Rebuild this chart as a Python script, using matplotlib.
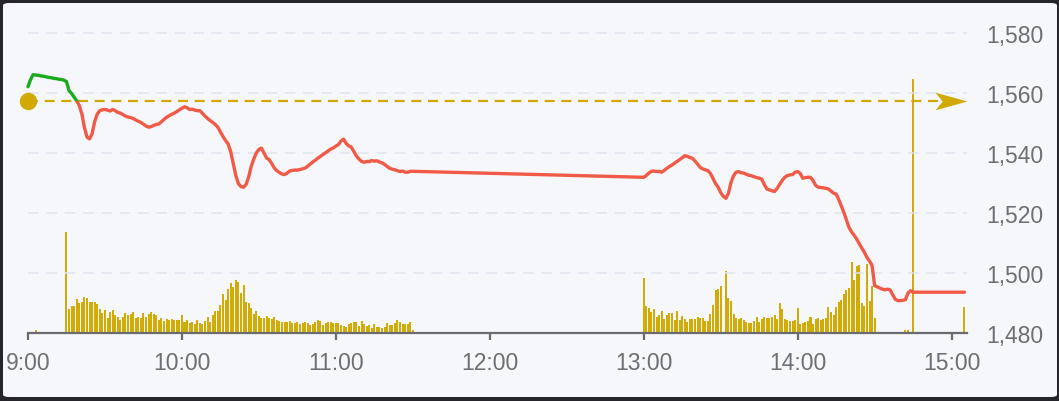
import matplotlib.pyplot as plt
from matplotlib.patches import Rectangle, FancyBboxPatch

# minutes after 9:00
morning_prices = [
    1562.1, 1564.5, 1566.1, 1566.0, 1565.9, 1565.7, 1565.6, 1565.4, 1565.2, 1565.1,
    1564.9, 1564.8, 1564.6, 1564.5, 1564.3, 1563.8, 1560.8, 1559.8, 1558.6, 1557.4,
    1555.8, 1553.0, 1548.5, 1545.3, 1544.7, 1546.5, 1550.5, 1553.0, 1554.1, 1554.4,
    1554.5, 1554.3, 1554.0, 1554.5, 1554.1, 1553.5, 1553.3, 1552.8, 1552.3, 1552.0,
    1551.8, 1551.5, 1551.0, 1550.6, 1550.2, 1549.6, 1549.0, 1548.6, 1548.8, 1549.2,
    1549.5, 1549.7, 1550.4, 1551.2, 1551.9, 1552.4, 1552.9, 1553.3, 1553.8, 1554.4,
    1554.9, 1555.4, 1555.1, 1554.5, 1554.6, 1554.3, 1554.1, 1554.1, 1553.2, 1552.3,
    1551.5, 1550.8, 1550.2, 1549.5, 1548.6, 1547.0, 1545.5, 1544.2, 1543.0, 1540.5,
    1536.5, 1532.5, 1529.8, 1528.8, 1528.6, 1529.5, 1532.0, 1535.5, 1538.0, 1540.0,
    1541.2, 1541.6, 1540.0, 1538.3, 1537.8, 1536.5, 1535.0, 1534.1, 1533.5, 1533.0,
    1532.8, 1533.3, 1534.0, 1534.2, 1534.3, 1534.3, 1534.5, 1534.7, 1535.0, 1535.6,
    1536.3, 1537.0, 1537.6, 1538.3, 1538.9, 1539.5, 1540.1, 1540.7, 1541.3, 1541.7,
    1542.3, 1542.8, 1544.0, 1544.6, 1543.2, 1542.4, 1542.0, 1540.5, 1539.0, 1538.0,
    1537.2, 1536.9, 1537.2, 1537.1, 1537.5, 1537.3, 1537.4, 1537.0, 1536.7, 1536.2,
    1535.5, 1534.9, 1534.6, 1534.4, 1534.1, 1533.8, 1534.0, 1533.6, 1533.6, 1533.9,
    1533.9,
]
afternoon_prices = [
    1531.9, 1532.5, 1533.3, 1533.9, 1534.0, 1533.8, 1533.9, 1533.6, 1534.2, 1534.9,
    1535.5, 1536.0, 1536.6, 1537.2, 1537.8, 1538.4, 1539.1, 1538.9, 1538.5, 1538.2,
    1537.3, 1536.3, 1535.2, 1534.7, 1534.4, 1534.1, 1533.2, 1531.5, 1529.8, 1528.6,
    1526.8, 1525.6, 1524.9, 1526.5, 1530.2, 1532.4, 1533.6, 1533.8, 1533.4, 1533.3,
    1532.9, 1532.6, 1532.4, 1532.1, 1531.8, 1531.6, 1531.3, 1529.5, 1528.0, 1527.7,
    1527.4, 1527.2, 1528.2, 1529.6, 1530.9, 1531.9, 1532.5, 1532.7, 1532.8, 1533.6,
    1533.8, 1533.2, 1531.6, 1531.8, 1531.9, 1531.9, 1530.8, 1529.2, 1528.6, 1528.5,
    1528.4, 1528.2, 1528.0, 1527.3, 1526.6, 1526.3, 1524.5, 1522.3, 1520.2, 1517.7,
    1515.2, 1513.7, 1512.6, 1511.3, 1509.8, 1508.3, 1506.9, 1505.2, 1504.0, 1502.5,
    1495.8, 1495.4, 1495.0, 1494.6, 1494.4, 1494.6, 1494.4, 1492.8, 1491.3, 1490.8,
    1490.8, 1490.9, 1491.1, 1493.3, 1494.1, 1493.6, 1493.6, 1493.6, 1493.6, 1493.6,
    1493.6, 1493.6, 1493.6, 1493.6, 1493.6, 1493.6, 1493.6, 1493.6, 1493.6, 1493.6,
    1493.6, 1493.6, 1493.6, 1493.6, 1493.6, 1493.6,
]
morning_volume = [
    0, 0, 1, 3, 0, 0, 0, 0, 0, 0, 0, 0, 0, 0, 0, 100.7, 24, 27.3, 26.7, 33.7,
    30.3, 30.7, 35.7, 34.7, 31, 31, 31.3, 29, 24, 20, 23, 14.7, 20.7, 23, 18,
    15.7, 13, 16, 19.7, 17.7, 19, 20.7, 15, 16.3, 14.7, 20, 16, 19, 20.7, 19,
    18, 13, 15, 12, 14.3, 12.7, 13.7, 13.3, 13.3, 13, 18, 11.3, 13, 10, 10.7,
    9.3, 12.7, 10, 9, 11.7, 15.7, 11.3, 18, 22.3, 21.7, 28, 39, 33, 44, 50.3,
    46.3, 53, 51.3, 39.7, 48, 31, 29.7, 24.7, 18.7, 22.3, 16.7, 15, 14.7, 17.3,
    14.7, 13.7, 15.7, 13.3, 12.3, 10.7, 10.7, 10.7, 12.3, 10.3, 9.7, 10.7, 8.7,
    10, 11, 9.7, 8, 8.7, 11.3, 12.7, 11.7, 8, 9.7, 10.7, 11.3, 10.3, 10, 9.7, 8,
    7, 6.3, 9, 10, 10.7, 10.7, 7, 12.3, 8.7, 7, 7.7, 5.3, 9.3, 6, 6, 5.3, 6.3,
    10.3, 7.7, 7.7, 10.3, 13, 10.7, 9.3, 8.7, 9.3, 10.7, 3.3,
]
afternoon_volume = [
    55.3, 26.7, 25, 21, 23.7, 16, 17.7, 22, 13.7, 17.7, 20, 20, 12.7, 22.3, 12.7,
    17, 14.3, 11, 14.3, 13.7, 13.7, 16, 15, 15, 11.7, 11.7, 19, 27.7, 42.7, 44.3,
    46.7, 0, 62.3, 35.3, 32, 19.3, 15, 13.7, 15.3, 12.7, 11, 10.3, 10.3, 12.3,
    16, 11, 13.7, 16.3, 15, 15.3, 16, 17.7, 14.3, 30, 24.3, 14.3, 12.7, 12.3,
    12.3, 12.7, 25, 9.3, 10, 11, 12, 16, 9, 14.3, 15, 12.7, 14.3, 15, 26, 21,
    18.3, 26, 31, 33.3, 39.3, 42.7, 45, 71, 52.7, 66.7, 67.7, 30, 27.3, 69.3,
    32.3, 47.5, 15.3, 0, 0, 0, 1, 1.3, 1.3, 0.7, 0, 1, 0, 0.7, 2.7, 3.3, 0,
    254, 0, 0, 0, 0, 0, 0, 0, 0, 0, 0, 0, 0, 0, 0, 0, 0, 0, 0, 0, 26,
]
morning_minutes = list(range(0, 151))
afternoon_minutes = list(range(240, 366))
prev_close = 1557.5
price_ticks = [1480, 1500, 1520, 1540, 1560, 1580]
time_ticks = [0, 60, 120, 180, 240, 300, 360]
time_labels = ['9:00', '10:00', '11:00', '12:00', '13:00', '14:00', '15:00']

minutes = morning_minutes + afternoon_minutes
prices = morning_prices + afternoon_prices
volumes = morning_volume + afternoon_volume

plt.rcParams['font.family'] = ['Liberation Sans', 'DejaVu Sans']

W, H = 1059, 402
fig = plt.figure(figsize=(W / 100, H / 100), dpi=100, facecolor='#26262a')
fig.patches.append(FancyBboxPatch((3 / W, 4 / H), 1054 / W, 394 / H,
                                  boxstyle='round,pad=0,rounding_size=0.006',
                                  transform=fig.transFigure, facecolor='#f5f7fa',
                                  edgecolor='none', zorder=-10))

ax_left, ax_right, ax_bottom, ax_top = 28, 967, 334, 16
rect = [ax_left / W, 1 - ax_bottom / H, (ax_right - ax_left) / W, (ax_bottom - ax_top) / H]

axv = fig.add_axes(rect, zorder=1)
axv.set_facecolor('none')
axv.bar(minutes, volumes, width=0.78, color='#d3ab06', linewidth=0)
axv.set_ylim(0, ax_bottom - ax_top)
axv.set_xlim(0, 366)
axv.axis('off')

ax = fig.add_axes(rect, zorder=2)
ax.set_facecolor('none')
ax.set_ylim(1480, 1586)
ax.set_xlim(0, 366)

for v in price_ticks[1:]:
    ax.axhline(v, color='#dfe4ef', lw=1.1, dashes=(7, 5), zorder=1)

green, = ax.plot(minutes, prices, color='#1caa1c', lw=2.4, zorder=4,
                 solid_joinstyle='round', solid_capstyle='round')
red, = ax.plot(minutes, prices, color='#f05a46', lw=2.4, zorder=4,
               solid_joinstyle='round', solid_capstyle='round')
green.set_clip_path(Rectangle((-5, prev_close), 400, 100, transform=ax.transData))
red.set_clip_path(Rectangle((-5, prev_close - 100), 400, 100, transform=ax.transData))

ax.plot([0, 360], [prev_close, prev_close], color='#d1a900', lw=1.6,
        dashes=(4.5, 3), zorder=3)
ax.plot([0], [prev_close], marker='o', ms=11.5, color='#d1a900',
        clip_on=False, zorder=5)
arrow = [(0, 0), (-2, -0.55), (-1.55, 0), (-2, 0.55), (0, 0)]
ax.plot([366], [prev_close], marker=arrow, ms=46, color='#d1a900',
        markeredgewidth=0, clip_on=False, zorder=5)

for s in ['top', 'left', 'right']:
    ax.spines[s].set_visible(False)
ax.spines['bottom'].set_color('#6a6a70')
ax.spines['bottom'].set_linewidth(1.6)

ax.set_xticks(time_ticks)
ax.set_xticklabels(time_labels)
ax.set_yticks(price_ticks)
ax.set_yticklabels([f'{v:,}' for v in price_ticks])
ax.yaxis.tick_right()
ax.tick_params(axis='y', length=0, pad=14, labelsize=16.5, labelcolor='#6e6e73')
ax.tick_params(axis='x', length=5, width=1.6, color='#6a6a70', pad=8,
               labelsize=16.5, labelcolor='#6e6e73')

fig.savefig('out.png', dpi=100, facecolor=fig.get_facecolor())
